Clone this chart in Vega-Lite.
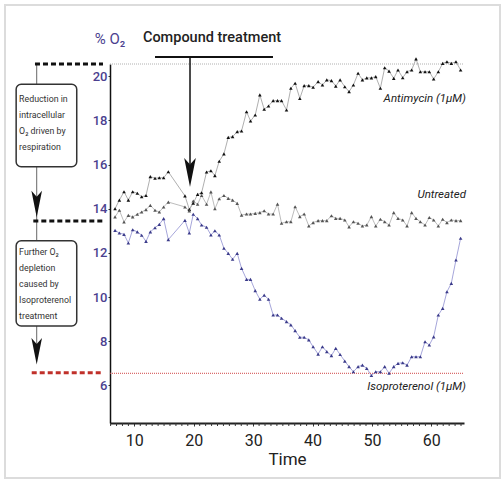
{
  "$schema": "https://vega.github.io/schema/vega-lite/v6.json",
  "width": 354,
  "height": 359,
  "autosize": {"type": "none"},
  "padding": {"left": 110, "top": 64, "right": 40, "bottom": 58},
  "background": "white",
  "config": {"view": {"stroke": null}, "font": "Roboto", "axis": {"labelFont": "Roboto", "titleFont": "Roboto"}},
  "datasets": {
    "obs": [
      {"t": 6.75, "Antimycin": 14.0, "Untreated": 13.63, "Isoproterenol": 13.02},
      {"t": 7.48, "Antimycin": 14.39, "Untreated": 13.93, "Isoproterenol": 12.9},
      {"t": 8.26, "Antimycin": 14.77, "Untreated": 13.4, "Isoproterenol": 12.84},
      {"t": 8.99, "Antimycin": 14.39, "Untreated": 13.7, "Isoproterenol": 12.45},
      {"t": 9.72, "Antimycin": 14.77, "Untreated": 13.63, "Isoproterenol": 13.05},
      {"t": 10.5, "Antimycin": 14.7, "Untreated": 13.75, "Isoproterenol": 12.95},
      {"t": 11.23, "Antimycin": 14.54, "Untreated": 13.85, "Isoproterenol": 12.8},
      {"t": 11.96, "Antimycin": 14.6, "Untreated": 13.96, "Isoproterenol": 12.52},
      {"t": 12.69, "Antimycin": 15.45, "Untreated": 14.15, "Isoproterenol": 12.95},
      {"t": 13.48, "Antimycin": 15.38, "Untreated": 13.93, "Isoproterenol": 13.14},
      {"t": 14.2, "Antimycin": 15.4, "Untreated": 13.85, "Isoproterenol": 13.29},
      {"t": 14.93, "Antimycin": 15.4, "Untreated": 14.08, "Isoproterenol": 13.55},
      {"t": 15.72, "Antimycin": 15.67, "Untreated": 14.3, "Isoproterenol": 12.6},
      {"t": 18.52, "Antimycin": 14.58, "Untreated": 14.08, "Isoproterenol": 13.47},
      {"t": 19.25, "Antimycin": 13.97, "Untreated": 13.9, "Isoproterenol": 12.9},
      {"t": 19.92, "Antimycin": 14.25, "Untreated": 14.35, "Isoproterenol": 13.75},
      {"t": 20.65, "Antimycin": 14.65, "Untreated": 14.2, "Isoproterenol": 13.55},
      {"t": 21.32, "Antimycin": 14.72, "Untreated": 14.6, "Isoproterenol": 13.26},
      {"t": 22.16, "Antimycin": 15.66, "Untreated": 14.2, "Isoproterenol": 13.16},
      {"t": 22.89, "Antimycin": 15.72, "Untreated": 14.76, "Isoproterenol": 12.81},
      {"t": 23.56, "Antimycin": 15.5, "Untreated": 14.0, "Isoproterenol": 13.0},
      {"t": 24.29, "Antimycin": 16.15, "Untreated": 14.45, "Isoproterenol": 12.81},
      {"t": 25.08, "Antimycin": 16.48, "Untreated": 14.6, "Isoproterenol": 12.21},
      {"t": 25.81, "Antimycin": 17.23, "Untreated": 14.47, "Isoproterenol": 11.98},
      {"t": 26.54, "Antimycin": 17.26, "Untreated": 14.39, "Isoproterenol": 11.71},
      {"t": 27.32, "Antimycin": 17.49, "Untreated": 14.24, "Isoproterenol": 11.98},
      {"t": 28.05, "Antimycin": 17.52, "Untreated": 13.71, "Isoproterenol": 11.3},
      {"t": 28.89, "Antimycin": 18.39, "Untreated": 13.76, "Isoproterenol": 10.8},
      {"t": 29.56, "Antimycin": 17.97, "Untreated": 13.76, "Isoproterenol": 10.8},
      {"t": 30.35, "Antimycin": 18.24, "Untreated": 13.79, "Isoproterenol": 10.29},
      {"t": 31.13, "Antimycin": 19.15, "Untreated": 13.82, "Isoproterenol": 9.9},
      {"t": 31.86, "Antimycin": 18.5, "Untreated": 13.91, "Isoproterenol": 10.09},
      {"t": 32.59, "Antimycin": 18.65, "Untreated": 13.76, "Isoproterenol": 9.9},
      {"t": 33.37, "Antimycin": 18.89, "Untreated": 13.76, "Isoproterenol": 9.19},
      {"t": 34.1, "Antimycin": 18.89, "Untreated": 14.21, "Isoproterenol": 9.19},
      {"t": 34.78, "Antimycin": 18.89, "Untreated": 13.34, "Isoproterenol": 9.04},
      {"t": 35.62, "Antimycin": 18.47, "Untreated": 13.41, "Isoproterenol": 8.89},
      {"t": 36.35, "Antimycin": 19.45, "Untreated": 13.41, "Isoproterenol": 8.74},
      {"t": 37.07, "Antimycin": 19.68, "Untreated": 14.09, "Isoproterenol": 8.48},
      {"t": 37.86, "Antimycin": 18.99, "Untreated": 13.64, "Isoproterenol": 8.18},
      {"t": 38.59, "Antimycin": 19.57, "Untreated": 13.76, "Isoproterenol": 8.18},
      {"t": 39.37, "Antimycin": 19.57, "Untreated": 13.22, "Isoproterenol": 8.06},
      {"t": 40.1, "Antimycin": 19.5, "Untreated": 13.37, "Isoproterenol": 7.75},
      {"t": 40.94, "Antimycin": 19.75, "Untreated": 13.46, "Isoproterenol": 7.42},
      {"t": 41.67, "Antimycin": 19.6, "Untreated": 13.46, "Isoproterenol": 7.75},
      {"t": 42.4, "Antimycin": 19.83, "Untreated": 13.46, "Isoproterenol": 7.53},
      {"t": 43.18, "Antimycin": 19.8, "Untreated": 13.68, "Isoproterenol": 7.35},
      {"t": 43.91, "Antimycin": 19.55, "Untreated": 13.56, "Isoproterenol": 7.68},
      {"t": 44.64, "Antimycin": 19.83, "Untreated": 13.56, "Isoproterenol": 7.4},
      {"t": 45.43, "Antimycin": 19.52, "Untreated": 13.49, "Isoproterenol": 7.1},
      {"t": 46.15, "Antimycin": 19.3, "Untreated": 13.18, "Isoproterenol": 6.85},
      {"t": 46.88, "Antimycin": 19.6, "Untreated": 13.41, "Isoproterenol": 6.62},
      {"t": 47.67, "Antimycin": 20.13, "Untreated": 13.34, "Isoproterenol": 6.85},
      {"t": 48.4, "Antimycin": 19.83, "Untreated": 13.22, "Isoproterenol": 6.92},
      {"t": 49.13, "Antimycin": 19.92, "Untreated": 13.26, "Isoproterenol": 6.77},
      {"t": 49.91, "Antimycin": 19.92, "Untreated": 13.64, "Isoproterenol": 6.45},
      {"t": 50.64, "Antimycin": 19.98, "Untreated": 13.22, "Isoproterenol": 6.62},
      {"t": 51.42, "Antimycin": 19.45, "Untreated": 13.52, "Isoproterenol": 6.62},
      {"t": 52.15, "Antimycin": 20.38, "Untreated": 13.41, "Isoproterenol": 6.85},
      {"t": 52.88, "Antimycin": 20.23, "Untreated": 13.26, "Isoproterenol": 6.55},
      {"t": 53.67, "Antimycin": 19.9, "Untreated": 13.82, "Isoproterenol": 6.85},
      {"t": 54.39, "Antimycin": 20.28, "Untreated": 13.56, "Isoproterenol": 7.0},
      {"t": 55.18, "Antimycin": 19.93, "Untreated": 13.49, "Isoproterenol": 7.03},
      {"t": 55.91, "Antimycin": 20.2, "Untreated": 13.22, "Isoproterenol": 6.92},
      {"t": 56.69, "Antimycin": 20.28, "Untreated": 13.82, "Isoproterenol": 7.3},
      {"t": 57.42, "Antimycin": 20.78, "Untreated": 13.56, "Isoproterenol": 7.3},
      {"t": 58.15, "Antimycin": 20.2, "Untreated": 13.41, "Isoproterenol": 7.3},
      {"t": 58.94, "Antimycin": 20.2, "Untreated": 13.26, "Isoproterenol": 7.98},
      {"t": 59.66, "Antimycin": 20.2, "Untreated": 13.6, "Isoproterenol": 7.83},
      {"t": 60.39, "Antimycin": 19.87, "Untreated": 13.49, "Isoproterenol": 8.2},
      {"t": 61.18, "Antimycin": 20.2, "Untreated": 13.22, "Isoproterenol": 9.19},
      {"t": 61.91, "Antimycin": 20.58, "Untreated": 13.52, "Isoproterenol": 9.49},
      {"t": 62.63, "Antimycin": 20.65, "Untreated": 13.37, "Isoproterenol": 10.24},
      {"t": 63.36, "Antimycin": 20.58, "Untreated": 13.49, "Isoproterenol": 10.62},
      {"t": 64.15, "Antimycin": 20.65, "Untreated": 13.46, "Isoproterenol": 11.68},
      {"t": 64.93, "Antimycin": 20.28, "Untreated": 13.46, "Isoproterenol": 12.66}
    ],
    "minor": [
      {"t": 6}, {"t": 7}, {"t": 8}, {"t": 9}, {"t": 11}, {"t": 12}, {"t": 13}, {"t": 14}, {"t": 15}, {"t": 16}, {"t": 17}, {"t": 18}, {"t": 19},
      {"t": 21}, {"t": 22}, {"t": 23}, {"t": 24}, {"t": 25}, {"t": 26}, {"t": 27}, {"t": 28}, {"t": 29},
      {"t": 31}, {"t": 32}, {"t": 33}, {"t": 34}, {"t": 35}, {"t": 36}, {"t": 37}, {"t": 38}, {"t": 39},
      {"t": 41}, {"t": 42}, {"t": 43}, {"t": 44}, {"t": 45}, {"t": 46}, {"t": 47}, {"t": 48}, {"t": 49},
      {"t": 51}, {"t": 52}, {"t": 53}, {"t": 54}, {"t": 55}, {"t": 56}, {"t": 57}, {"t": 58}, {"t": 59},
      {"t": 61}, {"t": 62}, {"t": 63}, {"t": 64}, {"t": 65}
    ]
  },
  "layer": [
    {
      "data": {"name": "obs"},
      "transform": [{"fold": ["Antimycin", "Untreated", "Isoproterenol"], "as": ["s", "v"]}],
      "mark": {"type": "line", "strokeWidth": 0.8},
      "encoding": {
        "x": {
          "field": "t", "type": "quantitative",
          "scale": {"domain": [5.9, 65.5], "nice": false, "zero": false},
          "axis": {
            "values": [10, 20, 30, 40, 50, 60],
            "title": "Time",
            "grid": false,
            "domainColor": "#222222",
            "domainWidth": 2,
            "tickColor": "#333333",
            "tickSize": 3,
            "tickWidth": 1,
            "labelFontSize": 16,
            "labelColor": "#222222",
            "labelPadding": 6,
            "titleFontSize": 17,
            "titleFontWeight": "normal",
            "titleColor": "#222222",
            "titlePadding": 3
          }
        },
        "y": {
          "field": "v", "type": "quantitative",
          "scale": {"domain": [4.3, 20.55], "nice": false, "zero": false},
          "axis": {
            "values": [6, 8, 10, 12, 14, 16, 18, 20],
            "title": null,
            "grid": false,
            "domainColor": "#111111",
            "domainWidth": 1.5,
            "tickColor": "#333333",
            "tickSize": 2,
            "labelFontSize": 13,
            "labelFontWeight": 500,
            "labelColor": "#4b3f8f",
            "labelPadding": 1
          }
        },
        "stroke": {
          "field": "s", "type": "nominal",
          "scale": {"domain": ["Antimycin", "Untreated", "Isoproterenol"], "range": ["#9a9a9a", "#ababab", "#8f8fd0"]},
          "legend": null
        }
      }
    },
    {
      "data": {"name": "minor"},
      "mark": {"type": "rule", "stroke": "#333333", "strokeWidth": 1},
      "encoding": {
        "x": {"field": "t", "type": "quantitative"},
        "y": {"datum": 4.3},
        "y2": {"datum": 4.165}
      }
    },
    {
      "data": {"values": [{"t": -11.78, "t2": 71.56, "v": 23.22, "v2": 1.81}]},
      "mark": {"type": "rect", "filled": false, "stroke": "#dcdcdc", "strokeWidth": 2},
      "encoding": {
        "x": {"field": "t", "type": "quantitative"},
        "x2": {"field": "t2"},
        "y": {"field": "v", "type": "quantitative"},
        "y2": {"field": "v2"}
      }
    },
    {
      "data": {"values": [{"t": 5.9, "t2": 65.5, "v": 20.55}]},
      "mark": {"type": "rule", "stroke": "#b0b0b0", "strokeWidth": 1, "strokeDash": [1, 1]},
      "encoding": {
        "x": {"field": "t", "type": "quantitative"},
        "x2": {"field": "t2"},
        "y": {"field": "v", "type": "quantitative"}
      }
    },
    {
      "data": {"values": [{"t": 5.9, "t2": 65.5, "v": 6.55}]},
      "mark": {"type": "rule", "stroke": "#d04545", "strokeWidth": 1, "strokeDash": [1, 1]},
      "encoding": {
        "x": {"field": "t", "type": "quantitative"},
        "x2": {"field": "t2"},
        "y": {"field": "v", "type": "quantitative"}
      }
    },
    {
      "data": {"values": [{"t": -6.44, "v": 20.55, "v2": 7.2}]},
      "mark": {"type": "rule", "stroke": "#666666", "strokeWidth": 1},
      "encoding": {
        "x": {"field": "t", "type": "quantitative"},
        "y": {"field": "v", "type": "quantitative"},
        "y2": {"field": "v2"}
      }
    },
    {
      "data": {"values": [{"t": -6.73, "t2": 4.72, "v": 20.55}, {"t": -7.01, "t2": 4.77, "v": 13.44}]},
      "mark": {"type": "rule", "stroke": "#111111", "strokeWidth": 3, "strokeDash": [5, 3]},
      "encoding": {
        "x": {"field": "t", "type": "quantitative"},
        "x2": {"field": "t2"},
        "y": {"field": "v", "type": "quantitative"}
      }
    },
    {
      "data": {"values": [{"t": -7.28, "t2": 4.5, "v": 6.58}]},
      "mark": {"type": "rule", "stroke": "#c0302a", "strokeWidth": 3, "strokeDash": [5, 3]},
      "encoding": {
        "x": {"field": "t", "type": "quantitative"},
        "x2": {"field": "t2"},
        "y": {"field": "v", "type": "quantitative"}
      }
    },
    {
      "data": {"values": [{"t": -9.9, "t2": 0.3, "v": 19.63, "v2": 15.9}, {"t": -9.9, "t2": 0.3, "v": 12.55, "v2": 8.69}]},
      "mark": {"type": "rect", "fill": "white", "stroke": "#333333", "strokeWidth": 1.5, "cornerRadius": 5},
      "encoding": {
        "x": {"field": "t", "type": "quantitative"},
        "x2": {"field": "t2"},
        "y": {"field": "v", "type": "quantitative"},
        "y2": {"field": "v2"}
      }
    },
    {
      "data": {"values": [
        {"t": -9.4, "v": 19.15, "label": "Reduction in\nintracellular\nO₂ driven by\nrespiration"},
        {"t": -9.4, "v": 12.22, "label": "Further O₂\ndepletion\ncaused by\nIsoproterenol\ntreatment"}
      ]},
      "mark": {"type": "text", "align": "left", "baseline": "top", "fontSize": 8.8, "lineHeight": 16, "lineBreak": "\n", "color": "#333333"},
      "encoding": {
        "x": {"field": "t", "type": "quantitative"},
        "y": {"field": "v", "type": "quantitative"},
        "text": {"field": "label"}
      }
    },
    {
      "data": {"values": [{"t": -6.44, "v": 14.21}, {"t": -6.44, "v": 7.55}]},
      "mark": {"type": "point", "shape": "M-0.4,-1L0,1L0.4,-1L0,-0.55Z", "filled": true, "size": 700, "color": "#111111", "opacity": 1, "strokeWidth": 0},
      "encoding": {
        "x": {"field": "t", "type": "quantitative"},
        "y": {"field": "v", "type": "quantitative"}
      }
    },
    {
      "data": {"values": [{"t": 13.48, "t2": 33.34, "v": 20.87}]},
      "mark": {"type": "rule", "stroke": "#111111", "strokeWidth": 2},
      "encoding": {
        "x": {"field": "t", "type": "quantitative"},
        "x2": {"field": "t2"},
        "y": {"field": "v", "type": "quantitative"}
      }
    },
    {
      "data": {"values": [{"t": 19.37, "v": 20.87, "v2": 16.0}]},
      "mark": {"type": "rule", "stroke": "#111111", "strokeWidth": 1.5},
      "encoding": {
        "x": {"field": "t", "type": "quantitative"},
        "y": {"field": "v", "type": "quantitative"},
        "y2": {"field": "v2"}
      }
    },
    {
      "data": {"values": [{"t": 19.37, "v": 15.64}]},
      "mark": {"type": "point", "shape": "M-0.4,-1L0,1L0.4,-1L0,-0.55Z", "filled": true, "size": 841, "color": "#111111", "opacity": 1, "strokeWidth": 0},
      "encoding": {
        "x": {"field": "t", "type": "quantitative"},
        "y": {"field": "v", "type": "quantitative"}
      }
    },
    {
      "data": {"values": [{"t": 23.07, "v": 21.73, "label": "Compound treatment"}]},
      "mark": {"type": "text", "align": "center", "baseline": "middle", "fontSize": 14.5, "fontWeight": 500, "color": "#222222"},
      "encoding": {
        "x": {"field": "t", "type": "quantitative"},
        "y": {"field": "v", "type": "quantitative"},
        "text": {"field": "label"}
      }
    },
    {
      "data": {"values": [{"t": 5.9, "v": 21.68, "label": "% O₂"}]},
      "mark": {"type": "text", "align": "center", "baseline": "middle", "fontSize": 15, "color": "#4b3f8f"},
      "encoding": {
        "x": {"field": "t", "type": "quantitative"},
        "y": {"field": "v", "type": "quantitative"},
        "text": {"field": "label"}
      }
    },
    {
      "data": {"name": "obs"},
      "transform": [{"fold": ["Antimycin", "Untreated", "Isoproterenol"], "as": ["s", "v"]}],
      "mark": {"type": "point", "shape": "triangle-up", "filled": true, "size": 13, "opacity": 1, "strokeWidth": 0},
      "encoding": {
        "x": {"field": "t", "type": "quantitative"},
        "y": {"field": "v", "type": "quantitative"},
        "fill": {
          "field": "s", "type": "nominal",
          "scale": {"domain": ["Antimycin", "Untreated", "Isoproterenol"], "range": ["#111111", "#555555", "#3b3b8a"]},
          "legend": null
        }
      }
    },
    {
      "data": {"values": [
        {"t": 65.83, "v": 18.97, "label": "Antimycin (1μM)"},
        {"t": 65.83, "v": 14.62, "label": "Untreated"},
        {"t": 65.83, "v": 5.93, "label": "Isoproterenol (1μM)"}
      ]},
      "mark": {"type": "text", "align": "right", "baseline": "middle", "fontSize": 11.5, "fontStyle": "italic", "color": "#222222"},
      "encoding": {
        "x": {"field": "t", "type": "quantitative"},
        "y": {"field": "v", "type": "quantitative"},
        "text": {"field": "label"}
      }
    }
  ]
}
